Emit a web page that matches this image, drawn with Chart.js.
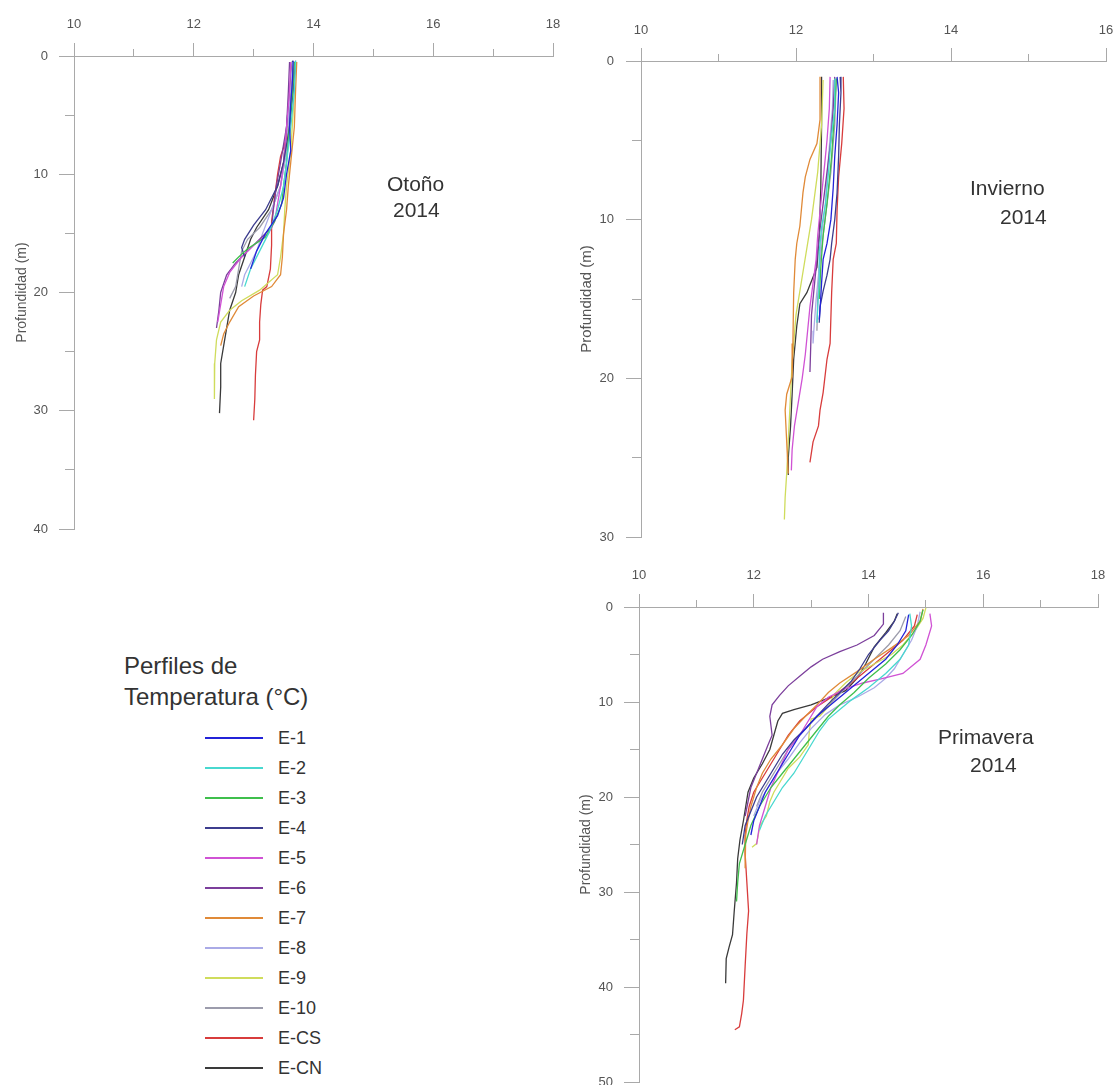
<!DOCTYPE html>
<html>
<head>
<meta charset="utf-8">
<script src="https://cdn.jsdelivr.net/npm/chart.js@4.4.1/dist/chart.umd.min.js"></script>
<style>
html,body{margin:0;padding:0;background:#fff;width:1117px;height:1085px;overflow:hidden;font-family:"Liberation Sans",Arial,sans-serif;position:relative;}
canvas{position:absolute;}
.t{position:absolute;color:#333;white-space:nowrap;}
.lg{position:absolute;left:205px;width:58px;height:2px;}
.ll{position:absolute;left:278px;font-size:18px;line-height:20px;color:#333;}
</style>
</head>
<body>
<canvas id="c1" width="572" height="550" style="left:0;top:0"></canvas>
<canvas id="c2" width="565" height="560" style="left:560px;top:0"></canvas>
<canvas id="c3" width="557" height="543" style="left:560px;top:560px"></canvas>

<div class="t" style="left:387px;top:171px;font-size:21px;line-height:26px">Otoño</div>
<div class="t" style="left:393px;top:197px;font-size:21px;line-height:26px">2014</div>
<div class="t" style="left:970px;top:175px;font-size:21px;line-height:26px">Invierno</div>
<div class="t" style="left:1000px;top:204px;font-size:21px;line-height:26px">2014</div>
<div class="t" style="left:938px;top:724px;font-size:21px;line-height:26px">Primavera</div>
<div class="t" style="left:970px;top:752px;font-size:21px;line-height:26px">2014</div>
<div class="t" style="left:124px;top:651px;font-size:24px;line-height:30px">Perfiles de</div>
<div class="t" style="left:124px;top:682px;font-size:24px;line-height:30px">Temperatura (°C)</div>
<div id="legend"></div>

<script>
// ---- categories ----
const stations = ['E-1','E-2','E-3','E-4','E-5','E-6','E-7','E-8','E-9','E-10','E-CS','E-CN'];
const stationColors = ['#2323d8','#48d8cf','#3fbf4c','#3d3d8e','#d052d4','#7c3f9c','#e08a38','#aaaae6','#cfdc5c','#9c9cac','#d83c3c','#3a3a3a'];

// ---- axis ranges / tick labels ----
const otTempTicks = [10,12,14,16,18];   const otDepthTicks = [0,10,20,30,40];
const inTempTicks = [10,12,14,16];      const inDepthTicks = [0,10,20,30];
const prTempTicks = [10,12,14,16,18];   const prDepthTicks = [0,10,20,30,40,50];

// ---- Otoño 2014 : [temperatura °C, profundidad m] ----
const otE1  = [[13.66,0.4],[13.65,2],[13.62,4],[13.6,6],[13.62,8],[13.55,10],[13.5,12],[13.4,13.5],[13.2,15],[13.05,16.5],[12.95,18]];
const otE2  = [[13.7,0.4],[13.68,3],[13.62,6],[13.55,9],[13.5,11],[13.4,13],[13.25,15],[13.1,16.5],[12.95,18],[12.85,19.5]];
const otE3  = [[13.68,0.5],[13.65,3],[13.6,6],[13.55,9],[13.5,11],[13.47,12.5],[13.35,14],[13.2,15.3],[13.05,15.8],[12.9,16.3],[12.75,17],[12.65,17.5]];
const otE4  = [[13.7,0.4],[13.66,3],[13.6,6],[13.5,9],[13.4,11],[13.2,13],[13.0,14.3],[12.85,15.5],[12.8,16.2],[12.85,17]];
const otE5  = [[13.62,0.5],[13.6,3],[13.55,6],[13.5,9],[13.45,11],[13.4,12.5],[13.35,14],[13.25,15],[13.0,16],[12.8,17],[12.6,18.3],[12.5,19.5],[12.45,21],[12.4,22.5]];
const otE6  = [[13.6,0.5],[13.58,3],[13.55,6],[13.45,9],[13.38,11],[13.33,13],[13.3,14.5],[13.1,15.5],[12.9,16.5],[12.7,17.5],[12.55,18.5],[12.45,20],[12.42,21.5],[12.38,23]];
const otE7  = [[13.72,0.5],[13.7,3],[13.68,6],[13.62,9],[13.58,11],[13.55,13],[13.5,15],[13.48,17],[13.45,18.5],[13.3,19.5],[13.0,20.3],[12.75,21.2],[12.6,22.5],[12.5,23.5],[12.45,24.5]];
const otE8  = [[13.65,0.5],[13.6,4],[13.55,8],[13.45,11],[13.3,13],[13.15,15],[13.05,16.5],[12.95,17.5],[12.85,18.5],[12.8,19.5]];
const otE9  = [[13.7,0.6],[13.67,4],[13.62,8],[13.55,11],[13.52,13],[13.5,15],[13.45,17],[13.4,18.5],[13.1,19.8],[12.8,20.7],[12.6,21.5],[12.45,22.5],[12.38,24],[12.35,26],[12.35,28],[12.34,29]];
const otE10 = [[13.68,0.5],[13.62,4],[13.55,8],[13.45,11],[13.3,13],[13.1,14.5],[12.9,15.5],[12.8,16.5],[12.75,18],[12.7,19.5],[12.6,20.5]];
const otECS = [[13.65,0.5],[13.62,3],[13.6,5],[13.55,7],[13.45,8.5],[13.4,10],[13.35,12],[13.3,14],[13.3,16],[13.28,18],[13.22,19.5],[13.15,19.8],[13.12,21],[13.1,22.5],[13.1,24],[13.05,25],[13.03,27],[13.02,29],[13.0,30.8]];
const otECN = [[13.65,0.4],[13.6,3],[13.55,6],[13.5,9],[13.4,11],[13.25,13],[13.05,14.5],[12.95,15.5],[12.85,17],[12.75,18.5],[12.7,20],[12.6,21.5],[12.55,23],[12.5,24.5],[12.45,26],[12.45,28],[12.43,30.2]];

// ---- Invierno 2014 ----
const inE1  = [[12.53,1.0],[12.55,2],[12.53,4],[12.5,6],[12.48,8],[12.45,10],[12.4,11.5],[12.35,12.5],[12.33,14],[12.31,15.7],[12.3,16.3]];
const inE2  = [[12.5,1.1],[12.5,3],[12.45,5],[12.42,7],[12.38,9],[12.33,10.5],[12.3,12],[12.3,14],[12.28,15.5],[12.27,16.5]];
const inE3  = [[12.52,1.1],[12.5,3],[12.46,6],[12.4,9],[12.35,11],[12.32,13],[12.3,15]];
const inE4  = [[12.57,1.0],[12.58,2],[12.56,4],[12.55,6],[12.53,8.3],[12.5,10],[12.46,11.5],[12.44,12.5],[12.4,13.5],[12.35,14.5],[12.31,15.5],[12.3,16.5]];
const inE5  = [[12.44,1.0],[12.43,3],[12.4,5],[12.36,7],[12.32,9],[12.28,11],[12.26,12.5],[12.22,14],[12.18,15.5],[12.15,17],[12.12,18.5],[12.08,20],[12.03,21.5],[11.98,23],[11.95,24.5],[11.94,25.8]];
const inE6  = [[12.5,1.0],[12.48,3],[12.45,5],[12.4,7],[12.35,9],[12.3,11],[12.27,12.5],[12.24,14],[12.2,16],[12.19,18],[12.18,19.6]];
const inE7  = [[12.31,1.0],[12.31,3.7],[12.27,5.2],[12.18,6.2],[12.12,7.3],[12.09,8.3],[12.05,10.4],[12.01,11.5],[11.99,12.5],[11.97,14.6],[11.96,17.8],[11.95,19.9],[11.88,21],[11.86,22],[11.88,24],[11.9,26]];
const inE8  = [[12.48,1.2],[12.47,3],[12.42,6],[12.38,9],[12.33,11],[12.3,13],[12.26,15],[12.23,17],[12.22,17.8]];
const inE9  = [[12.35,1.2],[12.33,4],[12.28,7],[12.2,10],[12.1,13],[12.0,16],[11.95,19],[11.92,22],[11.9,24],[11.88,26],[11.86,27.5],[11.85,28.9]];
const inE10 = [[12.52,1.1],[12.5,4],[12.45,7],[12.4,9],[12.35,11],[12.3,13],[12.28,15],[12.27,17]];
const inECS = [[12.61,1.0],[12.62,3],[12.59,5.2],[12.55,7.3],[12.53,9.4],[12.52,11.5],[12.48,12.5],[12.46,14.6],[12.44,17.8],[12.4,18.8],[12.35,20.9],[12.31,22],[12.29,23],[12.22,24],[12.18,25.3]];
const inECN = [[12.33,1.0],[12.33,4],[12.32,8],[12.3,11],[12.27,13],[12.14,14.6],[12.05,15.3],[12.01,16.7],[11.97,18.8],[11.95,21],[11.93,23],[11.9,25],[11.9,26.1]];

// ---- Primavera 2014 ----
const prE1  = [[14.7,0.8],[14.65,2.5],[14.5,4],[14.3,5.5],[14.0,7],[13.7,8.5],[13.5,9.5],[13.3,10.5],[13.1,11.5],[12.95,12.5],[12.8,13.5],[12.65,15],[12.5,16.5],[12.35,18],[12.2,19.5],[12.1,21],[12.0,22.5],[11.95,24]];
const prE2  = [[14.72,0.7],[14.75,2],[14.7,4],[14.55,5.5],[14.3,7],[14.0,8.5],[13.7,9.8],[13.5,10.8],[13.3,11.8],[13.15,13],[13.0,14.5],[12.85,16],[12.7,17.5],[12.5,19],[12.35,20.5],[12.2,22],[12.1,23.5]];
const prE3  = [[14.95,0.3],[14.9,1.5],[14.75,3],[14.55,4.5],[14.3,6],[14.0,7.5],[13.75,9],[13.5,10.3],[13.3,11.5],[13.1,13],[12.9,14.5],[12.7,16],[12.5,17.5],[12.3,19],[12.1,21],[11.95,23],[11.85,25],[11.75,27],[11.72,29],[11.7,31]];
const prE4  = [[14.52,0.6],[14.45,1.5],[14.35,2.5],[14.2,3.5],[14.0,5],[13.85,6.5],[13.7,7.8],[13.5,9],[13.3,10.2],[13.1,11.5],[12.9,12.8],[12.7,14],[12.5,15.5],[12.35,17],[12.2,18.5],[12.05,20],[11.95,21.5],[11.85,23],[11.8,25]];
const prE5  = [[15.07,0.7],[15.1,2],[15.0,4],[14.9,5.5],[14.6,7],[14.2,7.6],[13.9,8],[13.6,8.6],[13.3,9.5],[13.1,10.5],[12.95,12],[12.8,13.5],[12.6,15],[12.45,17],[12.3,19],[12.2,21],[12.1,23],[12.05,25]];
const prE6  = [[14.26,0.6],[14.26,1.8],[14.1,3],[13.8,4],[13.5,4.7],[13.2,5.5],[13.0,6.3],[12.8,7.3],[12.6,8.3],[12.45,9.3],[12.32,10.3],[12.28,11.5],[12.3,12.5],[12.32,13.5],[12.25,14.5],[12.15,16],[12.05,17.5],[11.95,19],[11.9,20.5],[11.85,22]];
const prE7  = [[14.95,0.2],[14.9,1.5],[14.7,3],[14.4,4.3],[14.1,5.5],[13.8,6.8],[13.5,8],[13.3,9],[13.1,10.3],[12.9,11.5],[12.7,12.8],[12.5,14.5],[12.3,16],[12.15,17.5],[12.05,19],[11.95,21],[11.9,22.5],[11.86,24],[11.85,26],[11.85,27.5]];
const prE8  = [[14.9,0.5],[14.85,2],[14.75,3.5],[14.6,5],[14.45,6.5],[14.3,7.5],[14.1,8.5],[13.8,9.5],[13.5,10.3],[13.25,11.3],[13.0,12.8],[12.8,14.3],[12.6,16],[12.4,17.5],[12.25,19],[12.1,20.5],[12.0,22]];
const prE9  = [[15.0,0.1],[14.95,1.2],[14.8,2.6],[14.6,4],[14.4,5],[14.1,6],[13.8,7],[13.6,8],[13.4,9.2],[13.3,10.5],[13.15,11.5],[13.0,11.8],[12.97,13],[12.95,14.5],[12.8,15.8],[12.6,17],[12.45,18.5],[12.35,19.5],[12.28,20.5],[12.22,22],[12.11,23],[12.05,24.9],[11.97,25.3]];
const prE10 = [[14.65,1],[14.55,2.5],[14.35,4],[14.1,5.5],[13.85,7],[13.6,8.5],[13.4,9.8],[13.2,11],[13.0,12.2],[12.8,13.5],[12.6,15],[12.45,16.5],[12.3,18],[12.15,19.5],[12.05,21]];
const prECS = [[14.85,0.8],[14.8,2],[14.6,3.5],[14.3,5],[14.0,6.5],[13.7,8],[13.4,9.3],[13.1,10.5],[12.8,12],[12.6,13.5],[12.45,15],[12.3,16.5],[12.15,18],[12.0,19.5],[11.92,21],[11.88,22.4],[11.85,24],[11.85,26],[11.88,29],[11.91,32],[11.88,34.4],[11.85,37.8],[11.82,41.4],[11.79,42.8],[11.75,44.2],[11.67,44.5]];
const prECN = [[14.5,0.7],[14.45,1.5],[14.3,2.7],[14.1,4.2],[13.95,6],[13.8,7.5],[13.6,8.8],[13.3,9.6],[13.0,10.3],[12.7,10.8],[12.5,11.2],[12.42,12],[12.35,13.5],[12.28,15],[12.15,16.5],[12.0,18],[11.9,19.5],[11.86,21],[11.82,22.5],[11.76,24.5],[11.72,26.5],[11.7,29],[11.66,32],[11.63,34.5],[11.57,35.8],[11.52,37],[11.51,39.6]];

const otono     = [otE1,otE2,otE3,otE4,otE5,otE6,otE7,otE8,otE9,otE10,otECS,otECN];
const invierno  = [inE1,inE2,inE3,inE4,inE5,inE6,inE7,inE8,inE9,inE10,inECS,inECN];
const primavera = [prE1,prE2,prE3,prE4,prE5,prE6,prE7,prE8,prE9,prE10,prECS,prECN];

const FONT = '"Liberation Sans", Arial, sans-serif';
const AXIS = '#a9a9a9';

function makePanel(id, series, xTicks, yTicks, g) {
  const xMajor = xTicks[1] - xTicks[0];
  const yMajor = yTicks[1] - yTicks[0];
  const datasets = stations.map((name, i) => ({
    label: name,
    data: series[i].map(p => ({x: p[0], y: p[1]})),
    showLine: true,
    borderColor: stationColors[i],
    borderWidth: 1.3,
    pointRadius: 0,
    fill: false,
    tension: 0
  }));
  return new Chart(document.getElementById(id), {
    type: 'scatter',
    data: {datasets},
    options: {
      responsive: false,
      animation: false,
      devicePixelRatio: 1,
      layout: {padding: {left: 0, top: 0, right: g.padR, bottom: g.padB}},
      plugins: {legend: {display: false}, tooltip: {enabled: false}},
      scales: {
        x: {
          type: 'linear', position: 'top',
          min: xTicks[0], max: xTicks[xTicks.length - 1],
          ticks: {
            stepSize: xMajor / 2, autoSkip: false, maxRotation: 0,
            callback: v => (xTicks.includes(v) ? String(v) : ''),
            color: '#555', font: {size: 13, family: FONT}, padding: g.xPad
          },
          grid: {
            drawOnChartArea: false, tickLength: 13, tickWidth: 1,
            tickColor: AXIS,
            tickBorderDash: c => (xTicks.includes(c.tick.value) ? [] : [7, 6]),
            tickBorderDashOffset: c => (xTicks.includes(c.tick.value) ? 0 : 7)
          },
          border: {color: AXIS, width: 1},
          afterFit: s => { s.height = g.top; }
        },
        y: {
          type: 'linear', position: 'left', reverse: true,
          min: yTicks[0], max: yTicks[yTicks.length - 1],
          ticks: {
            stepSize: yMajor / 2, autoSkip: false,
            callback: v => (yTicks.includes(v) ? String(v) : ''),
            color: '#555', font: {size: 13, family: FONT}, padding: g.yPad
          },
          grid: {
            drawOnChartArea: false, tickLength: 15, tickWidth: 1,
            tickColor: AXIS,
            tickBorderDash: c => (yTicks.includes(c.tick.value) ? [] : [9, 6]),
            tickBorderDashOffset: c => (yTicks.includes(c.tick.value) ? 0 : 9)
          },
          border: {color: AXIS, width: 1},
          title: {
            display: true, text: 'Profundidad (m)', color: '#555',
            font: {size: g.titleSize, family: FONT}, padding: {top: g.titlePad, bottom: 0}
          },
          afterFit: s => { s.width = g.left; }
        }
      }
    }
  });
}

makePanel('c1', otono, otTempTicks, otDepthTicks,
  {left: 74, top: 56, padR: 19, padB: 21, xPad: 11, yPad: 11, titlePad: 14, titleSize: 14});
makePanel('c2', invierno, inTempTicks, inDepthTicks,
  {left: 81, top: 61, padR: 19, padB: 23, xPad: 10, yPad: 12, titlePad: 18, titleSize: 15});
makePanel('c3', primavera, prTempTicks, prDepthTicks,
  {left: 79, top: 47, padR: 19, padB: 21, xPad: 11, yPad: 11, titlePad: 18, titleSize: 14});

// legend (HTML)
const lg = document.getElementById('legend');
stations.forEach((name, i) => {
  const cy = 738 + 30 * i;
  const line = document.createElement('div');
  line.className = 'lg';
  line.style.top = (cy - 1) + 'px';
  line.style.background = stationColors[i];
  lg.appendChild(line);
  const lab = document.createElement('div');
  lab.className = 'll';
  lab.style.top = (cy - 10) + 'px';
  lab.textContent = name;
  lg.appendChild(lab);
});
</script>
</body>
</html>
